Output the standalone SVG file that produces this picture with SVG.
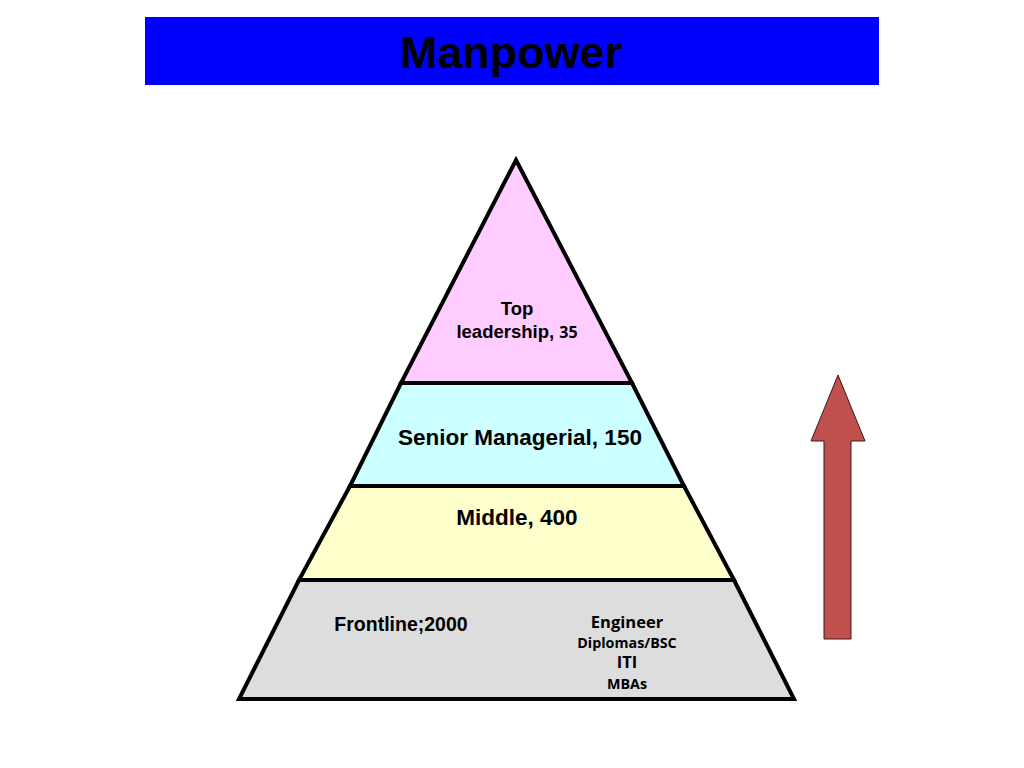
<svg xmlns="http://www.w3.org/2000/svg" width="1024" height="768" viewBox="0 0 1024 768">
<style>
.lvl{stroke:#000;stroke-width:4;stroke-linejoin:miter}
.t{font-family:"Liberation Sans",Arial,sans-serif;font-weight:bold;fill:#000;text-anchor:middle}
.c{font-family:"Open Sans","Liberation Sans",sans-serif;font-weight:bold;fill:#000;text-anchor:middle}
</style>
<rect width="1024" height="768" fill="#fff"/>
<g id="title">
<rect x="145" y="17" width="734" height="68" fill="#0000FF"/>
<text class="t" x="511" y="68" font-size="45" textLength="222" lengthAdjust="spacingAndGlyphs">Manpower</text>
</g>
<g id="top">
<polygon class="lvl" points="516,160 632,383 401,383" fill="#FFCCFF"/>
<text class="t" x="517" y="315" font-size="18.5">Top</text>
<text class="t" x="517" y="338" font-size="18.5">leadership, <tspan class="c" font-size="16">35</tspan></text>
</g>
<g id="senior">
<polygon class="lvl" points="401,383 632,383 684,486 350,486" fill="#CCFFFF"/>
<text class="t" x="520" y="445" font-size="22.5">Senior Managerial, 150</text>
</g>
<g id="middle">
<polygon class="lvl" points="350,486 684,486 734,580 299,580" fill="#FFFFCC"/>
<text class="t" x="517" y="525" font-size="22.5">Middle, 400</text>
</g>
<g id="frontline">
<polygon class="lvl" points="299,580 734,580 794,699 239,699" fill="#DDDDDD"/>
<text class="t" x="401" y="631" font-size="19.5">Frontline;2000</text>
<text class="c" x="627" y="628" font-size="16.5">Engineer</text>
<text class="c" x="627" y="648" font-size="14.3">Diplomas/BSC</text>
<text class="c" x="627" y="668" font-size="16.5">ITI</text>
<text class="c" x="627" y="689" font-size="14.3">MBAs</text>
</g>
<g id="arrow">
<polygon points="838,375 865,441 851,441 851,639 824,639 824,441 811,441" fill="#C0504D" stroke="#3a1a1a" stroke-width="1"/>
</g>
</svg>
